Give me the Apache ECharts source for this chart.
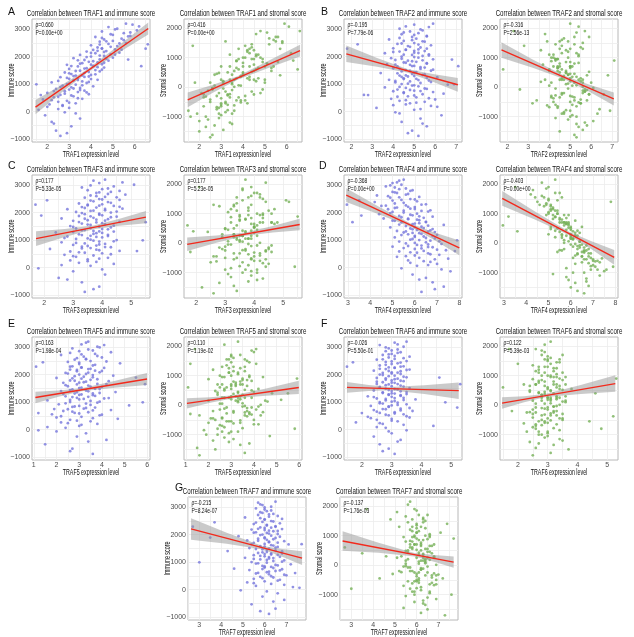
<!DOCTYPE html>
<html>
<head>
<meta charset="utf-8">
<script src="https://cdn.jsdelivr.net/npm/echarts@6/dist/echarts.min.js"></script>
<style>
  html, body { margin: 0; padding: 0; background: #fff; }
  #main { width: 634px; height: 637px; }
</style>
</head>
<body>
<div id="main"></div>
<script>
// 基因名
var genes = ['TRAF1', 'TRAF2', 'TRAF3', 'TRAF4', 'TRAF5', 'TRAF6', 'TRAF7'];

// 每个样本的 immune / stromal 评分（所有基因共用同一批样本）
var immune = [
  -880, -690, -530, -370, -250, -130, -20, 70, 140, 210, 265,
  305, 360, 395, 445, 470, 525, 560, 610, 635, 680, 715, 745, 765, 805,
  830, 865, 885, 925, 950, 985, 1005, 1045, 1065, 1100, 1135, 1160, 1195, 1215, 1255, 1280,
  1315, 1335, 1370, 1405, 1425, 1465, 1490, 1515, 1555, 1580, 1605, 1645, 1665, 1705, 1725, 1765, 1790,
  1815, 1855, 1880, 1905, 1945, 1965, 2005, 2025, 2065, 2085, 2125, 2145, 2185, 2205, 2245, 2265, 2305,
  2335, 2385, 2415, 2465, 2495, 2545, 2575, 2625, 2655, 2715, 2755, 2815,
  2855, 2915, 2955, 3015, 3075, 3165,
  2290, 1655, 995, 2450, 95, 1895, 605,
  -780, -430, -60, 180, 240,
  330, 420, 490, 545, 590, 655, 700, 750, 790,
  845, 900, 960, 1020, 1080, 1120, 1150, 1185, 1230, 1265, 1295,
  1320, 1360, 1395, 1440, 1480, 1530, 1570, 1620, 1660, 1710, 1745, 1780,
  1835, 1870, 1925, 1985, 2040, 2075, 2135, 2170, 2215, 2255, 2290,
  2360, 2440, 2480, 2560, 2600, 2680, 2735, 2790,
  2880, 2990, 3100, 3200
];
var stromal = [
  -1620, -1100, -1450, -650, -1250, -900, -300, -1000, -550, -1300, -200,
  -780, -420, -1050, 150, -620, -320, -850, -80, -520, -1500, -240, -680, 300, -380,
  -120, -900, 180, -450, 420, -250, -700, 60, -350, 550, -150, 250, -600, 700, -30, 380,
  -280, 820, 120, -450, 450, 950, -100, 300, -650, 600, 200, 1100, -300, 480, 760, 10, 1300,
  350, -200, 880, 520, 1550, 150, 700, 1050, 420, -80, 1250, 650, 950, 300, 1400, 800, 550,
  1150, 1650, 400, 1000, 850, 1350, 250, 1800, 700, 1200, 1500, 950,
  1700, 1250, 2050, 1450, 1900, 2150,
  600, 900, -800, 1900, -1700, 400, 1400,
  -900, -1350, -600, -1150, 50,
  -950, -250, -1200, -500, 200, -750, -350, -1000, 100,
  -550, -50, -800, 250, -450, 150, -350, 500, -200, 650, -500,
  250, -550, 700, 50, 500, -250, 900, 350, -50, 1000, 150, 600,
  1000, 250, 650, 1300, -150, 800, 450, 1100, 700, 1600, 250,
  850, 1450, 550, 1100, 1550, 950, 1300, 700,
  1550, 1850, 1150, 1700
];

// 每个基因的表达量
var traf1 = [
  2.6, 2.4, 3.1, 2.2, 3.5, 1.9, 2.8, 1.6, 3.0, 2.7, 2.1,
  3.3, 2.5, 2.9, 1.8, 3.6, 2.3, 3.2, 2.6, 3.9, 2.0, 3.4, 2.8, 3.7, 3.0,
  2.4, 3.5, 3.1, 4.1, 2.7, 3.3, 2.9, 3.8, 2.2, 3.6, 3.2, 4.3, 3.0, 3.4, 2.6, 3.9,
  3.3, 4.0, 3.1, 3.7, 2.8, 4.4, 3.5, 4.2, 3.0, 3.8, 4.6, 3.4, 4.1, 2.9, 4.5, 3.6, 4.3,
  3.9, 4.8, 3.7, 4.4, 3.2, 5.0, 4.0, 4.6, 3.5, 4.9, 4.2, 5.3, 3.8, 4.7, 4.1, 5.1, 4.5,
  4.3, 5.2, 4.0, 4.8, 5.6, 4.4, 5.0, 4.6, 5.4, 4.2, 5.8, 4.9,
  5.5, 4.5, 6.1, 5.2, 4.8, 5.9,
  6.5, 6.3, 1.5, 6.6, 2.5, 5.7, 1.7,
  2.9, 2.3, 3.3, 2.0, 2.7,
  3.0, 2.2, 3.4, 2.5, 3.1, 2.8, 3.8, 2.3, 3.5,
  3.2, 2.6, 3.6, 3.0, 3.9, 2.5, 3.4, 4.0, 2.9, 3.7, 3.2,
  3.6, 4.2, 3.0, 3.9, 3.3, 4.5, 3.7, 4.3, 3.1, 4.0, 3.5, 4.6,
  4.1, 3.4, 4.7, 3.8, 4.4, 5.1, 4.0, 4.6, 4.3, 5.4, 4.5,
  4.9, 4.4, 5.3, 4.7, 5.5, 4.5, 5.7, 5.0,
  5.8, 5.1, 6.2, 5.6
];
var traf2 = [
  5.2, 4.9, 5.6, 4.4, 5.3, 6.3, 4.1, 5.0, 3.2, 5.8, 4.6,
  4.8, 5.5, 4.3, 6.0, 3.9, 5.1, 4.7, 2.6, 5.4, 4.5, 5.9, 4.0, 5.0, 4.2,
  5.6, 4.6, 3.6, 5.2, 4.9, 6.6, 4.4, 5.3, 4.1, 4.8, 5.7, 3.8, 5.1, 4.5, 6.1, 4.7,
  4.3, 5.4, 4.9, 3.4, 5.0, 4.4, 5.8, 4.6, 5.3, 4.0, 5.5, 4.2, 5.0, 4.8, 3.7, 5.6, 4.5,
  5.1, 4.7, 4.1, 5.9, 3.9, 5.2, 4.4, 5.4, 4.9, 5.7, 3.6, 5.0, 4.3, 5.5, 4.6, 5.2, 4.0,
  5.3, 4.7, 5.8, 4.2, 5.0, 5.5, 4.5, 3.8, 5.1, 4.9, 5.6, 4.4,
  5.2, 4.8, 5.4, 4.3, 5.7, 5.0,
  1.8, 7.1, 6.9, 2.3, 5.3, 6.8, 2.8,
  4.7, 5.4, 4.3, 6.1, 4.0,
  5.1, 4.6, 5.7, 4.2, 5.0, 6.4, 4.5, 5.3, 4.8,
  5.5, 4.3, 5.0, 4.7, 5.8, 4.1, 5.2, 4.5, 5.6, 4.4, 5.0,
  4.6, 5.5, 4.2, 5.1, 4.8, 5.9, 4.3, 5.3, 4.9, 4.1, 5.6, 4.6,
  4.9, 5.4, 4.4, 5.0, 5.7, 4.5, 5.2, 4.0, 5.0, 4.6, 5.6,
  4.8, 5.2, 4.4, 5.4, 4.9, 4.3, 5.6, 5.0,
  4.5, 5.3, 4.6, 5.9
];
var traf3 = [
  3.4, 3.9, 3.3, 2.5, 4.1, 3.0, 1.8, 3.6, 4.4, 3.8, 2.9,
  3.5, 4.2, 3.1, 3.7, 2.7, 4.0, 3.2, 4.6, 3.9, 2.2, 3.6, 4.3, 3.3, 3.8,
  3.0, 4.1, 3.4, 2.6, 3.9, 3.7, 4.5, 3.1, 3.5, 4.0, 2.8, 3.6, 4.2, 3.2, 3.8, 2.4,
  4.4, 3.7, 3.4, 4.0, 3.1, 4.3, 3.9, 2.9, 3.6, 4.1, 3.3, 3.8, 4.6, 3.0, 3.5, 4.2, 2.6,
  3.7, 4.5, 3.2, 4.0, 3.4, 3.9, 4.3, 3.1, 3.6, 4.1, 2.8, 4.7, 3.8, 3.3, 4.4, 3.5, 4.0,
  3.2, 4.2, 3.7, 4.6, 3.9, 3.4, 4.1, 3.6, 4.8, 3.8, 4.3, 3.5,
  4.0, 3.3, 4.4, 5.1, 3.9, 3.7,
  1.7, 5.5, 5.4, 2.1, 2.6, 1.9, 5.2,
  3.7, 2.8, 4.0, 3.2, 3.5,
  3.9, 3.0, 4.3, 3.4, 2.9, 3.8, 3.3, 4.1, 3.5,
  3.9, 3.1, 4.4, 3.6, 2.7, 3.8, 4.2, 3.3, 3.7, 4.0, 3.0,
  3.9, 3.3, 4.2, 3.6, 3.0, 4.4, 3.5, 4.0, 3.2, 4.1, 3.8, 3.4,
  4.3, 3.6, 3.9, 3.3, 4.5, 3.7, 4.1, 3.4, 4.6, 3.9, 3.5,
  4.3, 3.6, 4.0, 4.5, 3.8, 4.2, 3.9, 4.6,
  4.2, 3.6, 4.7, 4.1
];
var traf4 = [
  6.3, 7.3, 6.8, 6.5, 5.9, 7.6, 5.4, 6.1, 7.0, 6.7, 5.7,
  6.9, 6.2, 5.2, 6.0, 7.1, 6.6, 5.8, 6.4, 7.4, 6.0, 5.5, 6.8, 5.0, 6.3,
  6.1, 7.2, 5.6, 6.5, 5.3, 6.7, 6.2, 5.9, 6.9, 5.1, 6.4, 6.0, 7.0, 5.7, 6.2, 5.5,
  6.6, 5.2, 6.1, 6.8, 5.8, 4.9, 6.3, 5.6, 7.3, 5.9, 6.0, 5.4, 6.5, 5.1, 6.2, 5.7, 4.6,
  6.4, 6.8, 5.3, 5.9, 4.4, 6.1, 5.5, 5.0, 6.3, 6.7, 4.8, 5.8, 5.2, 6.0, 4.5, 5.6, 6.5,
  5.1, 4.2, 6.1, 5.4, 5.8, 4.9, 6.2, 4.3, 5.6, 5.2, 5.0, 5.9,
  5.3, 5.1, 4.7, 5.4, 5.0, 5.3,
  2.95, 3.2, 7.9, 3.5, 6.6, 3.6, 7.8,
  6.9, 6.2, 7.2, 5.8, 6.4,
  7.5, 5.6, 6.7, 6.1, 5.3, 7.0, 6.3, 6.6, 5.7,
  6.6, 6.0, 7.1, 5.8, 6.5, 6.0, 6.8, 5.4, 6.3, 5.9, 6.9,
  5.6, 6.7, 5.9, 6.4, 6.0, 6.6, 5.3, 6.2, 6.5, 5.0, 6.1, 5.7,
  5.4, 6.2, 5.8, 4.9, 6.6, 5.5, 6.0, 5.1, 5.7, 4.7, 6.3,
  5.5, 5.0, 6.0, 5.3, 4.8, 5.7, 5.1, 5.8,
  5.6, 4.9, 5.2, 5.5
];
var traf5 = [
  3.6, 2.7, 1.5, 4.2, 2.9, 3.3, 1.2, 2.4, 3.0, 3.8, 2.2,
  3.5, 2.6, 4.7, 2.0, 3.1, 3.9, 1.8, 2.8, 3.4, 2.3, 4.4, 2.5, 3.2, 3.7,
  2.7, 3.0, 5.2, 2.1, 3.3, 3.8, 2.6, 3.5, 1.6, 3.0, 4.1, 2.9, 3.4, 2.4, 3.6, 3.1,
  2.8, 3.9, 4.6, 2.2, 3.3, 2.7, 3.7, 3.0, 4.0, 2.5, 3.4, 2.9, 3.8, 2.3, 3.2, 4.3, 2.6,
  3.5, 3.1, 2.0, 3.6, 2.8, 4.5, 3.0, 3.3, 2.4, 3.9, 2.9, 3.7, 2.6, 3.4, 4.1, 3.1, 2.7,
  3.6, 3.0, 4.8, 2.5, 3.5, 2.8, 3.3, 4.0, 3.2, 2.2, 3.7, 4.4,
  3.0, 3.4, 2.7, 3.8, 4.1, 3.3,
  1.1, 5.9, 5.8, 1.4, 1.6, 5.5, 1.2,
  2.6, 3.4, 2.0, 3.1, 2.5,
  2.9, 3.6, 2.2, 4.0, 3.0, 2.7, 3.6, 1.9, 3.3,
  2.8, 3.5, 2.4, 3.9, 2.6, 3.2, 4.3, 2.7, 3.7, 3.0, 2.3,
  3.6, 2.9, 3.4, 2.6, 3.9, 3.1, 3.5, 2.4, 4.2, 3.0, 3.3, 2.8,
  3.8, 2.7, 3.2, 3.6, 2.5, 3.4, 4.0, 2.9, 3.5, 3.1, 2.6,
  3.7, 3.0, 4.2, 3.3, 2.9, 3.8, 3.1, 2.6,
  3.6, 3.9, 3.1, 3.4
];
var traf6 = [
  3.1, 2.9, 2.6, 3.3, 2.4, 3.0, 3.5, 2.8, 4.4, 2.7, 1.8,
  3.2, 2.5, 3.0, 3.6, 2.2, 2.9, 3.4, 2.6, 3.1, 3.7, 2.4, 2.8, 3.3, 5.2,
  2.9, 2.3, 3.0, 3.5, 2.7, 3.2, 2.6, 3.1, 2.8, 3.8, 2.5, 3.4, 3.0, 2.2, 3.3, 2.9,
  3.1, 2.7, 3.5, 3.0, 2.4, 3.2, 2.8, 3.6, 2.6, 3.0, 3.3, 2.9, 2.5, 3.1, 2.7, 3.4, 3.0,
  2.8, 3.2, 2.5, 3.5, 2.9, 3.1, 2.6, 3.3, 2.7, 3.0, 3.3, 2.4, 3.6, 2.8, 3.1, 2.9, 3.4,
  2.6, 3.0, 3.2, 2.8, 3.5, 2.5, 3.1, 2.9, 3.6, 2.7, 3.0, 3.3,
  2.8, 3.2, 2.9, 3.4, 2.6, 3.1,
  1.5, 5.3, 4.8, 1.7, 2.5, 4.6, 2.0,
  2.7, 3.2, 2.9, 3.4, 2.6,
  3.0, 2.3, 3.5, 2.8, 3.1, 2.5, 3.3, 2.7, 3.6,
  2.9, 3.2, 2.6, 3.0, 3.4, 2.8, 3.1, 2.4, 3.3, 2.9, 3.5,
  3.0, 2.7, 3.3, 2.9, 3.1, 2.6, 3.4, 2.8, 3.2, 3.0, 2.5, 3.3,
  3.1, 2.8, 3.4, 2.7, 3.0, 3.2, 2.9, 3.5, 2.6, 3.1, 3.3,
  2.8, 3.3, 3.0, 2.7, 3.4, 3.1, 2.9, 3.2,
  3.0, 2.8, 3.2, 3.5
];
var traf7 = [
  6.2, 6.5, 5.4, 6.9, 5.9, 6.6, 4.9, 7.6, 5.6, 6.3, 5.2,
  6.0, 6.7, 5.5, 6.4, 5.8, 7.0, 6.2, 5.7, 6.1, 6.5, 5.3, 6.8, 4.6, 6.0,
  6.3, 5.9, 6.6, 7.2, 5.6, 6.1, 5.4, 6.4, 6.9, 5.8, 6.2, 5.1, 6.7, 6.0, 5.5, 6.3,
  6.8, 5.7, 6.1, 4.3, 6.5, 5.9, 6.2, 5.3, 6.6, 5.8, 6.4, 7.1, 6.0, 5.5, 6.2, 6.9, 5.2,
  6.1, 5.7, 6.5, 6.0, 4.8, 6.3, 5.9, 6.6, 6.1, 5.6, 6.4, 6.2, 5.4, 6.8, 6.0, 5.8, 6.5,
  6.1, 5.5, 6.7, 5.9, 6.3, 6.0, 6.8, 5.1, 6.2, 5.7, 6.4, 5.8,
  6.1, 6.0, 5.6, 6.3, 5.9, 5.7,
  2.7, 7.7, 3.0, 3.7, 7.3, 3.5, 7.4,
  5.8, 6.4, 6.1, 6.9, 5.5,
  6.6, 5.9, 6.3, 6.9, 5.6, 6.2, 6.7, 5.9, 6.4,
  6.0, 6.5, 5.7, 6.8, 6.1, 5.5, 6.4, 6.2, 5.8, 6.6, 6.0,
  6.3, 5.9, 6.8, 6.1, 5.6, 6.5, 6.0, 6.3, 5.4, 6.6, 6.2, 5.7,
  6.4, 6.0, 6.7, 5.8, 6.2, 5.5, 6.6, 6.0, 5.7, 6.3, 6.5,
  6.1, 5.6, 6.4, 6.0, 5.8, 6.6, 6.2, 5.9,
  6.3, 6.0, 5.8, 6.5
];
var expr = [traf1, traf2, traf3, traf4, traf5, traf6, traf7];

// 相关系数和 P 值
var rhoImmune = ['0.660', '-0.195', '0.177', '-0.368', '0.163', '-0.026', '-0.215'];
var pImmune = ['0.00e+00', '7.79e-06', '5.33e-05', '0.00e+00', '1.98e-04', '5.50e-01', '8.24e-07'];
var rhoStromal = ['0.416', '-0.316', '0.177', '-0.403', '0.110', '0.122', '-0.137'];
var pStromal = ['0.00e+00', '2.56e-13', '5.23e-05', '0.00e+00', '1.19e-02', '5.39e-03', '1.76e-03'];

// 拟合线 [x0, y0, x1, y1]
var fitImmune = [[1.46, 170, 6.62, 3025], [1.76, 2105, 7.08, 980], [1.72, 1060, 5.51, 1840], [2.92, 2635, 8.0, 720], [1.07, 1170, 5.99, 1845], [1.5, 1540, 5.25, 1420], [2.62, 2210, 7.72, 1150]];
var fitStromal = [[1.47, -430, 6.61, 1240], [1.72, 1260, 7.08, -400], [1.69, -40, 5.57, 630], [2.92, 1520, 7.95, -480], [1.05, 60, 5.98, 600], [1.47, 70, 5.27, 730], [2.6, 820, 7.7, 100]];

// 置信带 [x, lo, hi]
var bandImmune = [
  [[1.46, -90, 430], [2.6, 661, 941], [3.75, 1377, 1497], [5.19, 2109, 2359], [6.62, 2805, 3245]],
  [[1.76, 1805, 2405], [3.23, 1634, 1954], [4.7, 1418, 1548], [5.89, 1092, 1372], [7.08, 730, 1230]],
  [[1.72, 790, 1330], [2.71, 1119, 1409], [3.7, 1402, 1532], [4.6, 1528, 1778], [5.51, 1620, 2060]],
  [[2.92, 2385, 2885], [4.41, 1938, 2208], [5.9, 1452, 1572], [6.95, 971, 1261], [8.0, 450, 990]],
  [[1.07, 960, 1380], [2.09, 1195, 1425], [3.1, 1394, 1504], [4.55, 1528, 1768], [5.99, 1625, 2065]],
  [[1.5, 1345, 1735], [2.23, 1412, 1622], [2.95, 1439, 1549], [4.1, 1302, 1612], [5.25, 1120, 1720]],
  [[2.62, 1820, 2600], [4.26, 1669, 2069], [5.9, 1463, 1593], [6.81, 1199, 1479], [7.72, 900, 1400]]
];
var bandStromal = [
  [[1.47, -680, -180], [2.6, -198, 72], [3.75, 251, 371], [5.19, 659, 899], [6.61, 1040, 1440]],
  [[1.72, 1000, 1520], [3.21, 659, 939], [4.7, 277, 397], [5.89, -151, 89], [7.08, -620, -180]],
  [[1.69, -270, 190], [2.7, 9, 259], [3.7, 252, 362], [4.64, 359, 579], [5.57, 435, 825]],
  [[2.92, 1270, 1770], [4.41, 793, 1063], [5.9, 275, 395], [6.93, -209, 61], [7.95, -730, -230]],
  [[1.05, -115, 235], [2.08, 78, 268], [3.1, 234, 334], [4.54, 322, 562], [5.98, 375, 825]],
  [[1.47, -125, 265], [2.21, 94, 304], [2.95, 272, 382], [4.11, 379, 679], [5.27, 450, 1010]],
  [[2.6, 490, 1150], [4.25, 417, 757], [5.9, 294, 414], [6.8, 112, 342], [7.7, -90, 290]]
];

// 坐标轴范围与刻度
var xRange = [[1.3, 6.7], [1.65, 7.28], [1.58, 5.65], [2.82, 8.12], [0.92, 6.12], [1.4, 5.36], [2.48, 7.9]];
var xTicks = [[2, 3, 4, 5, 6], [2, 3, 4, 5, 6, 7], [2, 3, 4, 5], [3, 4, 5, 6, 7, 8], [1, 2, 3, 4, 5, 6], [2, 3, 4, 5], [3, 4, 5, 6, 7]];
var immuneRange = [-1100, 3370];
var immuneTicks = [-1000, 0, 1000, 2000, 3000];
var stromalRange = [-1860, 2310];
var stromalTicks = [-1000, 0, 1000, 2000];
var panelLetters = ['A', 'B', 'C', 'D', 'E', 'F', 'G'];

(function () {
  var FONT = "'Liberation Sans', Arial, sans-serif"
  // 版面位置（像素）
  var boxLeft = [[32, 184], [344, 500], [32, 184], [344, 500], [32, 184], [344, 500], [188, 340]]
  var boxTop = [19, 19, 175, 175, 337, 337, 497]
  var letterPos = [[8, 12], [321, 12], [8, 166], [319, 166], [8, 324], [321, 324], [175, 488]]
  var W = 118, H = 123

  // 网格线（含半刻度）
  function gridValues(range, step) {
    var out = []
    for (var v = Math.ceil(range[0] / step) * step; v <= range[1]; v += step) {
      out.push(+v.toFixed(3))
    }
    return out
  }
  // 刻度文字：不要千分位，负号用 −
  function tickText(v) {
    return v < 0 ? '\u2212' + Math.abs(v) : String(v)
  }
  // 压窄的文字（参考图用的是窄体字）
  function narrowText(x, y, text, size, sx, align, rot) {
    return {
      type: 'text', x: x, y: y, scaleX: sx, rotation: rot || 0, z: 10,
      style: {
        text: text, fill: '#111', fontSize: size, fontFamily: FONT,
        align: align, verticalAlign: 'middle', textAlign: align, textVerticalAlign: 'middle'
      }
    }
  }

  var grid = [], xAxis = [], yAxis = [], series = [], graphic = []

  genes.forEach(function (gene, g) {
    [0, 1].forEach(function (j) {
      var k = grid.length
      var left = boxLeft[g][j], top = boxTop[g]
      var isImm = j === 0
      var yr = isImm ? immuneRange : stromalRange
      var yt = isImm ? immuneTicks : stromalTicks
      var ys = isImm ? immune : stromal
      var fit = isImm ? fitImmune[g] : fitStromal[g]
      var band = isImm ? bandImmune[g] : bandStromal[g]

      grid.push({
        left: left, top: top, width: W, height: H,
        show: true, borderColor: '#b8b8b8', borderWidth: 1,
        outerBoundsMode: 'none'
      })

      xAxis.push({
        gridIndex: k, type: 'value', min: xRange[g][0], max: xRange[g][1],
        axisLine: { show: false },
        axisTick: { show: false, customValues: gridValues(xRange[g], 0.5) },
        axisLabel: { customValues: xTicks[g], fontSize: 7, color: '#4d4d4d', margin: 1.5, fontFamily: FONT, formatter: tickText },
        splitLine: { show: true, lineStyle: { color: '#ececec', width: 0.8 } }
      })

      yAxis.push({
        gridIndex: k, type: 'value', min: yr[0], max: yr[1],
        axisLine: { show: false },
        axisTick: { show: false, customValues: gridValues(yr, 500) },
        axisLabel: { customValues: yt, fontSize: 7, color: '#4d4d4d', margin: 2, fontFamily: FONT, formatter: tickText },
        splitLine: { show: true, lineStyle: { color: '#ececec', width: 0.8 } }
      })

      // 散点
      series.push({
        type: 'scatter', xAxisIndex: k, yAxisIndex: k,
        symbolSize: 2.8,
        itemStyle: { color: isImm ? '#7676dc' : '#76b058', opacity: 0.8 },
        data: ys.map(function (v, i) { return [expr[g][i], v] }),
        z: 1
      })

      // 置信带
      series.push({
        type: 'custom', xAxisIndex: k, yAxisIndex: k,
        data: [[band[0][0], band[0][1]]],
        renderItem: function (params, api) {
          var pts = band.map(function (p) { return api.coord([p[0], p[2]]) })
          for (var i = band.length - 1; i >= 0; i--) {
            pts.push(api.coord([band[i][0], band[i][1]]))
          }
          return { type: 'polygon', shape: { points: pts }, style: { fill: 'rgba(150,150,150,0.5)' } }
        },
        z: 2
      })

      // 拟合线
      series.push({
        type: 'line', xAxisIndex: k, yAxisIndex: k,
        data: [[fit[0], fit[1]], [fit[2], fit[3]]],
        symbol: 'none', lineStyle: { color: '#f2291c', width: 1.4 },
        z: 3
      })

      // 标题
      graphic.push(narrowText(left + W / 2, top - 5,
        'Correlation between ' + gene + ' and ' + (isImm ? 'immune' : 'stromal') + ' score', 8.2, 0.75, 'center'))
      // rho / P
      graphic.push(narrowText(left + 3.5, top + 6, 'ρ=' + (isImm ? rhoImmune[g] : rhoStromal[g]), 8, 0.62, 'left'))
      graphic.push(narrowText(left + 3.5, top + 13.3, 'P=' + (isImm ? pImmune[g] : pStromal[g]), 8, 0.62, 'left'))
      // 轴名
      graphic.push(narrowText(left + W / 2, top + H + 13, gene + ' expression level', 8.6, 0.62, 'center'))
      graphic.push(narrowText(left - 20, top + H / 2, isImm ? 'Immune score' : 'Stromal score', 8.6, 0.62, 'center', Math.PI / 2))
    })

    graphic.push({
      type: 'text', x: letterPos[g][0], y: letterPos[g][1],
      style: {
        text: panelLetters[g], fill: '#111', fontSize: 10.5, fontFamily: FONT,
        align: 'left', verticalAlign: 'middle', textAlign: 'left', textVerticalAlign: 'middle'
      }
    })
  })

  var myChart = echarts.init(document.getElementById('main'))
  myChart.setOption({
    animation: false,
    backgroundColor: '#fff',
    textStyle: { fontFamily: FONT },
    grid: grid,
    xAxis: xAxis,
    yAxis: yAxis,
    series: series,
    graphic: graphic
  })
})();
</script>
</body>
</html>
